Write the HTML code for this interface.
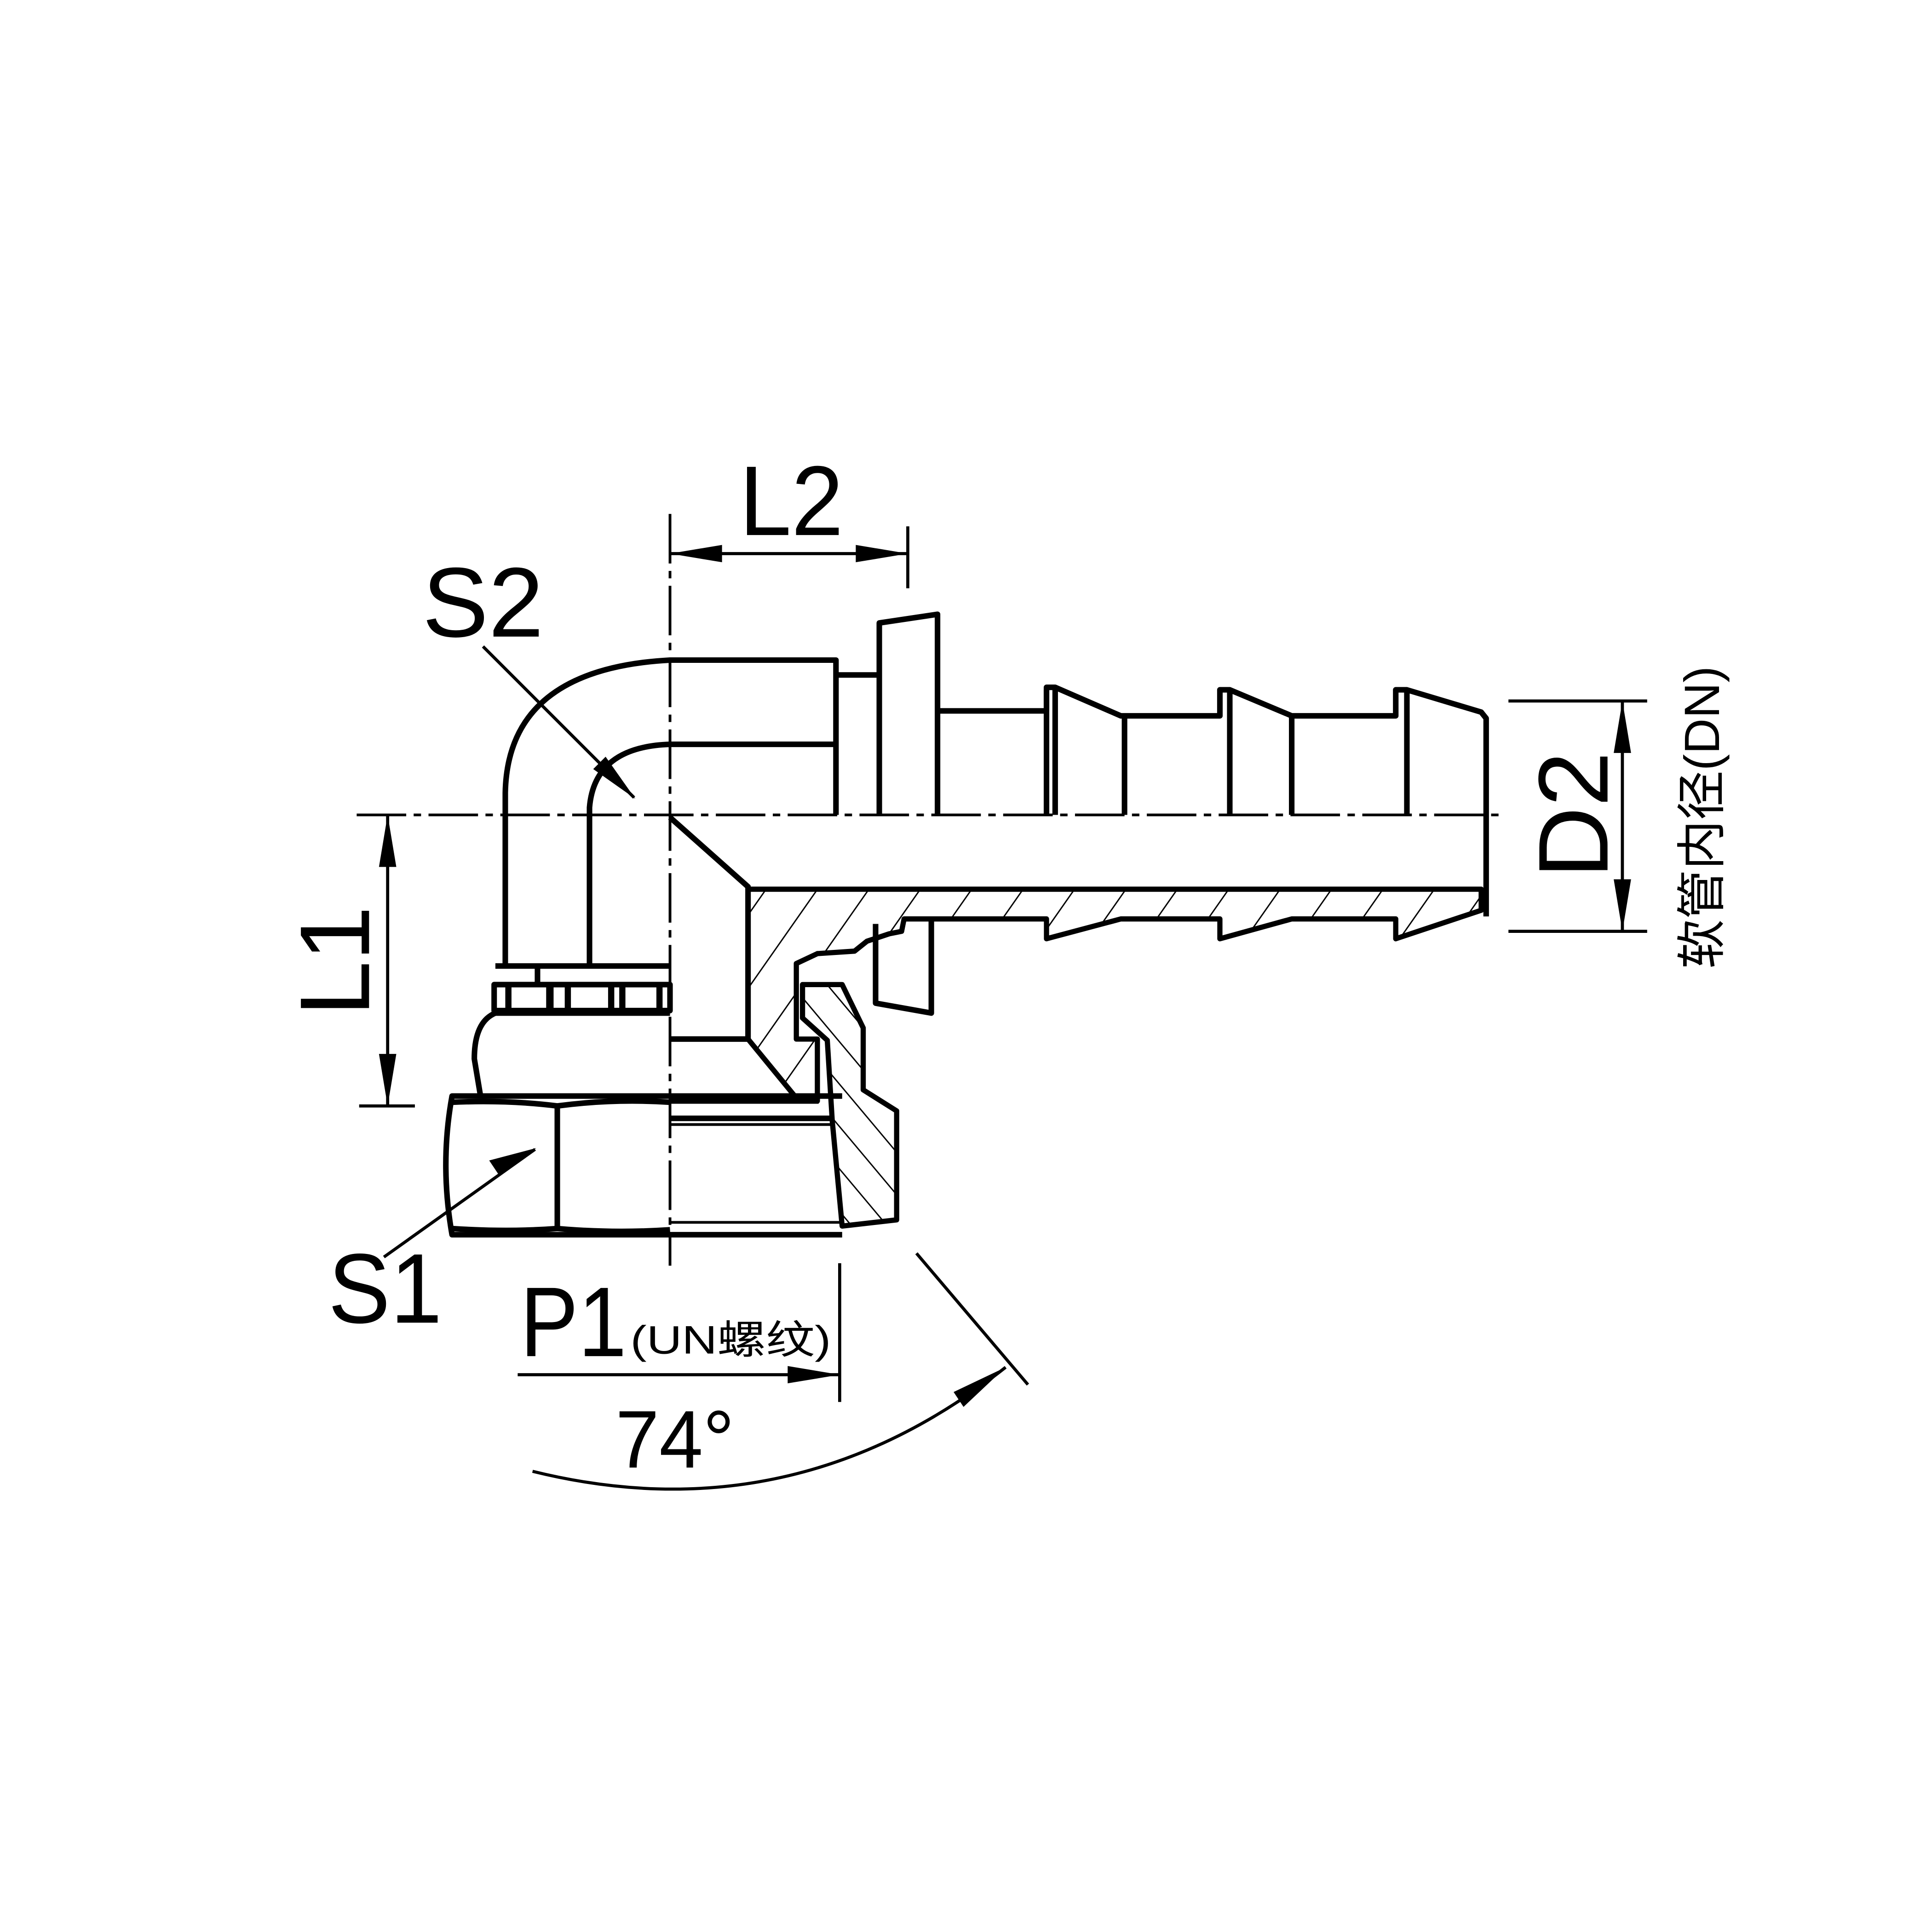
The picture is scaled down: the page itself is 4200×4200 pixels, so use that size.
<!DOCTYPE html>
<html><head><meta charset="utf-8"><style>
html,body{margin:0;padding:0;background:#fff;}
svg{display:block;}
text{font-family:"Liberation Sans","Noto Sans CJK SC",sans-serif;fill:#000;}
</style></head><body>
<svg width="4200" height="4200" viewBox="0 0 1560 1560" xmlns="http://www.w3.org/2000/svg">
<defs>
<pattern id="h1" patternUnits="userSpaceOnUse" width="34" height="34" patternTransform="rotate(35)">
<line x1="0" y1="0" x2="0" y2="34" stroke="#000" stroke-width="2.2"/>
</pattern>
<pattern id="h2" patternUnits="userSpaceOnUse" width="22" height="22" patternTransform="rotate(-40)">
<line x1="0" y1="0" x2="0" y2="22" stroke="#000" stroke-width="2.2"/>
</pattern>
</defs>
<rect width="1560" height="1560" fill="#fff"/>

<path d="M604,718 L1196,718 L1196,735 L1127,758 L1127,742 L1043,742 L985,758 L985,742 L905,742 L845,758 L845,742 L730,742 L728,752 L718,754 L700,760 L690,768 L660,770 L643,778 L643,839 L660,839 L660,889 L645,889 L604,839 Z" fill="url(#h1)" stroke="#000" stroke-width="4.2" stroke-linejoin="round"/>
<path d="M648,795 L680,795 L697,830 L697,880 L724,897 L724,985 L680,990 L672,905 L668,840 L648,822 Z" fill="url(#h2)" stroke="#000" stroke-width="4.2" stroke-linejoin="round"/>

<g fill="none" stroke="#000" stroke-width="4.5" stroke-linejoin="round">
<path d="M408,780 L408,640 Q410,540 541,533 L675,533 L675,658"/>
<path d="M476,780 L476,652 Q480,603 541,601 L675,601"/>
<line x1="400" y1="780" x2="541" y2="780"/>
<path d="M675,545 L710,545"/>
<path d="M710,658 L710,503 L757,496 L757,658"/>
<path d="M757,574 L845,574 L845,555 L852,555 L905,578 L985,578 L985,557 L993,557 L1043,578 L1127,578 L1127,557 L1136,557 L1196,575 L1200,580 L1200,740"/>
<line x1="852" y1="557" x2="852" y2="658"/>
<line x1="845" y1="557" x2="845" y2="658"/>
<line x1="908" y1="578" x2="908" y2="658"/>
<line x1="993" y1="557" x2="993" y2="658"/>
<line x1="1043" y1="578" x2="1043" y2="658"/>
<line x1="1136" y1="557" x2="1136" y2="658"/>
<path d="M541,660 L604,716 L604,839"/>
<line x1="541" y1="839" x2="604" y2="839"/>
<line x1="541" y1="889" x2="661" y2="889"/>
<path d="M707,746 L707,810 L752,818 L752,740"/>
<rect x="399" y="795" width="142" height="21"/>
<line x1="434" y1="780" x2="434" y2="795"/>
<path d="M541,818 L400,818 Q383,825 383,855 L388,885"/>
<path d="M680,885 L365,885 Q355,940 365,997 L680,997"/>
<path d="M365,890 Q410,888 450,893 Q495,887 541,890"/>
<path d="M365,992 Q410,995 450,992 Q495,996 541,993"/>
<line x1="450" y1="893" x2="450" y2="992"/>
<line x1="541" y1="903" x2="672" y2="903"/>
<line x1="541" y1="908" x2="672" y2="908" stroke-width="2.2"/>
<line x1="541" y1="987" x2="678" y2="987" stroke-width="2.2"/>
</g>
<g fill="#000">
<rect x="408" y="795" width="5" height="21"/><rect x="441" y="795" width="6" height="21"/>
<rect x="456" y="795" width="5" height="21"/><rect x="491" y="795" width="5" height="21"/>
<rect x="500" y="795" width="5" height="21"/><rect x="530" y="795" width="5" height="21"/>
</g>

<g stroke="#000" stroke-width="2.2" stroke-dasharray="40,6,6,6" fill="none">
<line x1="288" y1="658" x2="1212" y2="658"/>
<line x1="541" y1="415" x2="541" y2="1022"/>
</g>

<g stroke="#000" stroke-width="2.5" fill="none">
<line x1="733" y1="425" x2="733" y2="475"/>
<line x1="541" y1="447" x2="733" y2="447"/>
<line x1="390" y1="522" x2="512" y2="644"/>
<line x1="290" y1="893" x2="335" y2="893"/>
<line x1="313" y1="658" x2="313" y2="893"/>
<line x1="310" y1="1015" x2="432" y2="928"/>
<line x1="678" y1="1020" x2="678" y2="1132"/>
<line x1="418" y1="1110" x2="678" y2="1110"/>
<line x1="740" y1="1012" x2="830" y2="1118"/>
<path d="M430,1188 Q640,1240 812,1104"/>
<line x1="1218" y1="566" x2="1330" y2="566"/>
<line x1="1218" y1="752" x2="1330" y2="752"/>
<line x1="1310" y1="566" x2="1310" y2="752"/>
</g>
<g fill="#000">
<polygon points="541,447 583,440 583,454"/>
<polygon points="733,447 691,440 691,454"/>
<polygon points="513,645 479,621 489,611"/>
<polygon points="313,658 306,700 320,700"/>
<polygon points="313,893 306,851 320,851"/>
<polygon points="433,927 395,937 403,949"/>
<polygon points="678,1110 636,1103 636,1117"/>
<polygon points="812,1104 778,1136 770,1124"/>
<polygon points="1310,566 1303,608 1317,608"/>
<polygon points="1310,752 1303,710 1317,710"/>
</g>

<text x="597" y="432" font-size="80" textLength="84" lengthAdjust="spacingAndGlyphs">L2</text>
<text x="341" y="514" font-size="80" textLength="98" lengthAdjust="spacingAndGlyphs">S2</text>
<text x="298" y="776" font-size="80" text-anchor="middle" transform="rotate(-90 298 776)">L1</text>
<text x="265" y="1068" font-size="80" textLength="92" lengthAdjust="spacingAndGlyphs">S1</text>
<text x="420" y="1095" font-size="80" textLength="86" lengthAdjust="spacingAndGlyphs">P1</text>
<text x="509" y="1093" font-size="32" textLength="162" lengthAdjust="spacingAndGlyphs">(UN螺纹)</text>
<text x="497" y="1185" font-size="66" textLength="96" lengthAdjust="spacingAndGlyphs">74°</text>
<text x="1298" y="658" font-size="80" text-anchor="middle" transform="rotate(-90 1298 658)">D2</text>
<text x="1388" y="660" font-size="40" text-anchor="middle" transform="rotate(-90 1388 660)">软管内径(DN)</text>
</svg>
</body></html>
